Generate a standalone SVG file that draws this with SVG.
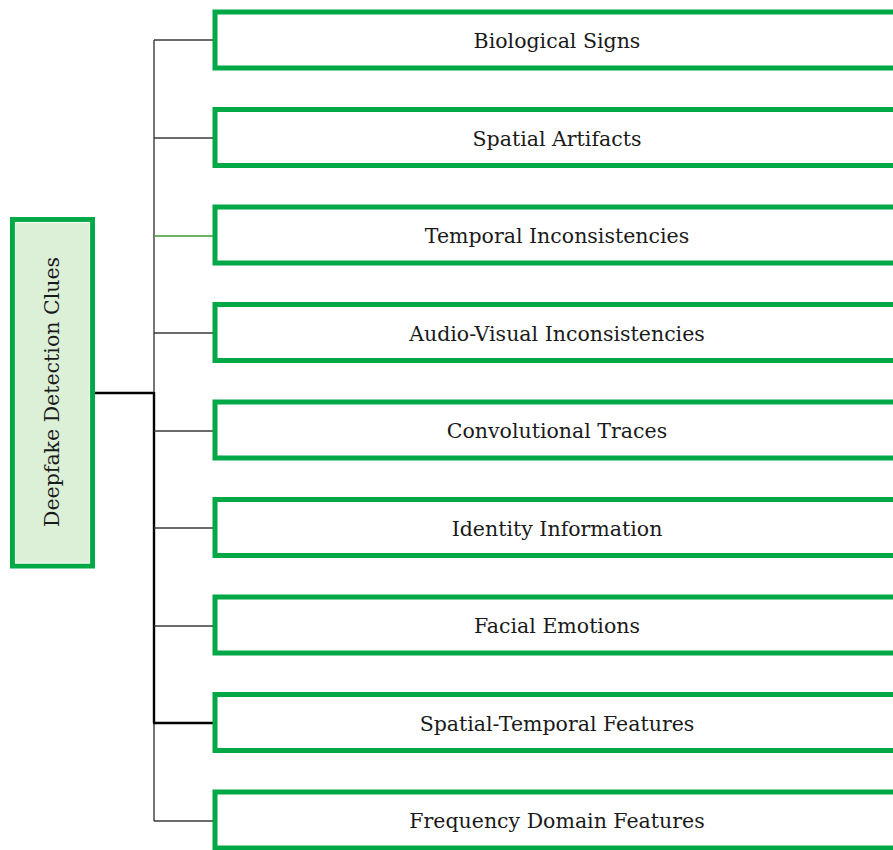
<svg xmlns="http://www.w3.org/2000/svg" width="893" height="850" viewBox="0 0 893 850">
<style>
.box{fill:#ffffff;stroke:#00A846;stroke-width:5}
.root{fill:#DCEFD7;stroke:#00A846;stroke-width:5}
.lbl{font-family:"DejaVu Serif","Liberation Serif",serif;font-size:20.5px;fill:#1a1a1a;text-anchor:middle}
.thin{stroke:#3a3a3a;stroke-width:1.4;fill:none}
.thick{stroke:#000000;stroke-width:2.4;fill:none}
</style>
<rect width="893" height="850" fill="#ffffff"/>
<g id="connectors">
<line class="thin" x1="154" y1="40" x2="154" y2="821"/>
<line class="thick" x1="154" y1="392" x2="154" y2="723"/>
<line class="thick" x1="95" y1="393" x2="154" y2="393"/>
<line class="thin" x1="154" y1="40" x2="213" y2="40"/>
<line class="thin" x1="154" y1="138" x2="213" y2="138"/>
<line x1="154" y1="236" x2="213" y2="236" stroke="#3c9a2e" stroke-width="1.4"/>
<line class="thin" x1="154" y1="333" x2="213" y2="333"/>
<line class="thin" x1="154" y1="431" x2="213" y2="431"/>
<line class="thin" x1="154" y1="528" x2="213" y2="528"/>
<line class="thin" x1="154" y1="626" x2="213" y2="626"/>
<line class="thick" x1="153" y1="723" x2="213" y2="723"/>
<line class="thin" x1="154" y1="821" x2="213" y2="821"/>
</g>
<g id="root">
<rect class="root" x="12.5" y="219.5" width="80" height="346.5"/>
<rect x="15.5" y="222.5" width="74" height="340.5" fill="none" stroke="#eef8ec" stroke-width="1.2"/>
<text class="lbl" transform="translate(59,392) rotate(-90)">Deepfake Detection Clues</text>
</g>
<g id="n1"><rect class="box" x="215" y="12" width="700" height="56"/><text class="lbl" x="557" y="48">Biological Signs</text></g>
<g id="n2"><rect class="box" x="215" y="109.5" width="700" height="56"/><text class="lbl" x="557" y="145.5">Spatial Artifacts</text></g>
<g id="n3"><rect class="box" x="215" y="207" width="700" height="56"/><text class="lbl" x="557" y="243">Temporal Inconsistencies</text></g>
<g id="n4"><rect class="box" x="215" y="304.5" width="700" height="56"/><text class="lbl" x="557" y="340.5">Audio-Visual Inconsistencies</text></g>
<g id="n5"><rect class="box" x="215" y="402" width="700" height="56"/><text class="lbl" x="557" y="438">Convolutional Traces</text></g>
<g id="n6"><rect class="box" x="215" y="499.5" width="700" height="56"/><text class="lbl" x="557" y="535.5">Identity Information</text></g>
<g id="n7"><rect class="box" x="215" y="597" width="700" height="56"/><text class="lbl" x="557" y="633">Facial Emotions</text></g>
<g id="n8"><rect class="box" x="215" y="694.5" width="700" height="56"/><text class="lbl" x="557" y="730.5">Spatial-Temporal Features</text></g>
<g id="n9"><rect class="box" x="215" y="792" width="700" height="56"/><text class="lbl" x="557" y="828">Frequency Domain Features</text></g>
</svg>
